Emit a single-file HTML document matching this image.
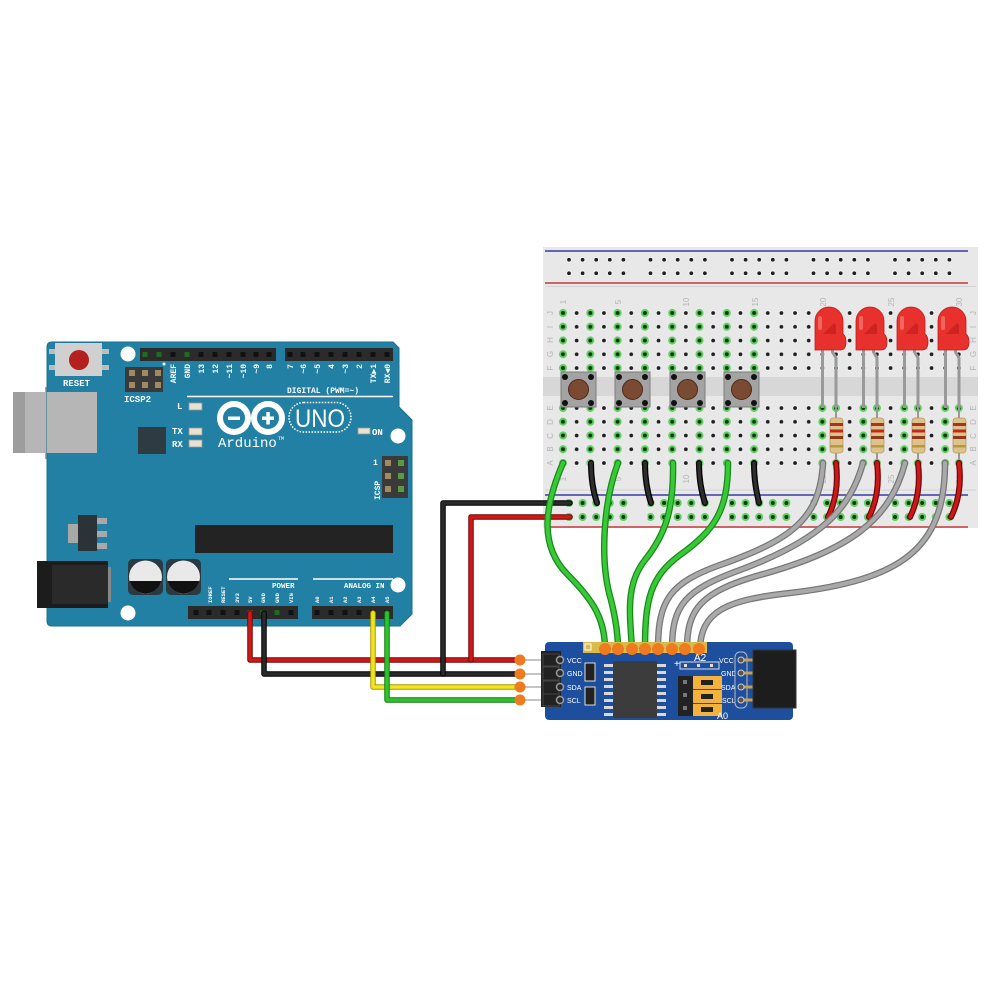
<!DOCTYPE html>
<html><head><meta charset="utf-8">
<style>html,body{margin:0;padding:0;background:#fff;}svg{display:block}</style>
</head><body>
<svg width="1000" height="1000" viewBox="0 0 1000 1000" xmlns="http://www.w3.org/2000/svg" font-family="'Liberation Mono', monospace">
<defs>
 <pattern id="pb" width="13.65" height="13.75" patternUnits="userSpaceOnUse">
   <circle cx="6.825" cy="6.875" r="2.7" fill="#f7f7f7"/>
   <circle cx="6.825" cy="6.875" r="1.9" fill="#1e1e1e"/>
 </pattern>
 <pattern id="pg" width="27.3" height="13.75" patternUnits="userSpaceOnUse">
   <circle cx="6.825" cy="6.875" r="4" fill="#5dcf5d"/>
   <circle cx="6.825" cy="6.875" r="2" fill="#163816"/>
 </pattern>
 <pattern id="pg2" width="40.95" height="13.75" patternUnits="userSpaceOnUse">
   <circle cx="6.825" cy="6.875" r="4" fill="#5dcf5d"/>
   <circle cx="6.825" cy="6.875" r="2" fill="#163816"/>
   <circle cx="20.475" cy="6.875" r="4" fill="#5dcf5d"/>
   <circle cx="20.475" cy="6.875" r="2" fill="#163816"/>
 </pattern>
 <pattern id="prb" width="81.5" height="13.5" patternUnits="userSpaceOnUse">
   <g fill="#f7f7f7"><circle cx="3" cy="6.75" r="2.7"/><circle cx="16.6" cy="6.75" r="2.7"/><circle cx="30.2" cy="6.75" r="2.7"/><circle cx="43.8" cy="6.75" r="2.7"/><circle cx="57.4" cy="6.75" r="2.7"/></g>
   <g fill="#1e1e1e"><circle cx="3" cy="6.75" r="1.9"/><circle cx="16.6" cy="6.75" r="1.9"/><circle cx="30.2" cy="6.75" r="1.9"/><circle cx="43.8" cy="6.75" r="1.9"/><circle cx="57.4" cy="6.75" r="1.9"/></g>
 </pattern>
 <pattern id="prg" width="81.5" height="14" patternUnits="userSpaceOnUse">
   <g fill="#5dcf5d"><circle cx="3" cy="7" r="4"/><circle cx="16.6" cy="7" r="4"/><circle cx="30.2" cy="7" r="4"/><circle cx="43.8" cy="7" r="4"/><circle cx="57.4" cy="7" r="4"/></g>
   <g fill="#163816"><circle cx="3" cy="7" r="2"/><circle cx="16.6" cy="7" r="2"/><circle cx="30.2" cy="7" r="2"/><circle cx="43.8" cy="7" r="2"/><circle cx="57.4" cy="7" r="2"/></g>
 </pattern>
</defs>

<!-- ================= ARDUINO ================= -->
<!-- USB -->
<rect x="45" y="387" width="10" height="72" fill="#a5a5a5"/>
<rect x="13" y="392" width="84" height="61" fill="#b6b6b6"/>
<rect x="13" y="392" width="12" height="61" fill="#9d9d9d"/>
<!-- board -->
<path d="M52,342 L393,342 L399,348 L399,407 L412,420 L412,614 L400,626 L52,626 Q47,626 47,621 L47,347 Q47,342 52,342 Z" fill="#2180a3" stroke="#1a6f8f" stroke-width="1"/>
<!-- USB over board part -->
<rect x="47" y="392" width="50" height="61" fill="#b6b6b6"/>
<!-- power jack -->
<rect x="37" y="561" width="71" height="47" fill="#1c1c1c"/>
<rect x="52" y="565" width="56" height="39" fill="#2a2a2a"/>
<rect x="108" y="567" width="3" height="35" fill="#888"/>
<!-- regulator -->
<rect x="68" y="524" width="10" height="19" fill="#a8a8a8"/>
<rect x="97" y="518" width="10" height="6" fill="#a8a8a8"/>
<rect x="97" y="531" width="10" height="6" fill="#a8a8a8"/>
<rect x="97" y="543" width="10" height="6" fill="#a8a8a8"/>
<rect x="78" y="515" width="19" height="36" fill="#2b3338"/>
<!-- capacitors -->
<rect x="128" y="559" width="35" height="36" rx="5" fill="#2a3a40"/>
<rect x="166" y="559" width="35" height="36" rx="5" fill="#2a3a40"/>
<circle cx="145.5" cy="577" r="16.5" fill="#e9e9e9"/>
<path d="M129.5,581 A16.5 16.5 0 0 0 161.5,581 Z" fill="#111"/>
<circle cx="183.5" cy="577" r="16.5" fill="#e9e9e9"/>
<path d="M167.5,581 A16.5 16.5 0 0 0 199.5,581 Z" fill="#111"/>
<!-- reset -->
<rect x="49" y="349" width="60" height="5" fill="#bdbdbd"/>
<rect x="49" y="365" width="60" height="5" fill="#bdbdbd"/>
<rect x="55" y="343" width="47" height="33" fill="#d0d0d0"/>
<circle cx="79" cy="360" r="10" fill="#b3201e"/>
<text x="63" y="386" font-size="9" fill="#fff" font-weight="bold">RESET</text>
<!-- mounting holes -->
<circle cx="128" cy="354" r="7.5" fill="#fff"/>
<circle cx="398" cy="436" r="7.5" fill="#fff"/>
<circle cx="398" cy="585" r="7.5" fill="#fff"/>
<circle cx="128" cy="613" r="7.5" fill="#fff"/>
<!-- ICSP2 -->
<rect x="125" y="367" width="38" height="25" fill="#3a3a3a"/>
<g fill="#a08a60"><rect x="129" y="370" width="6" height="6"/><rect x="142" y="370" width="6" height="6"/><rect x="155" y="370" width="6" height="6"/><rect x="129" y="382" width="6" height="6"/><rect x="142" y="382" width="6" height="6"/><rect x="155" y="382" width="6" height="6"/></g>
<circle cx="164" cy="364" r="1.5" fill="#fff"/>
<text x="124" y="402" font-size="9" fill="#fff" font-weight="bold">ICSP2</text>
<!-- top headers -->
<rect x="140" y="348" width="136" height="13" fill="#2b2b2b"/>
<rect x="285" y="348" width="108" height="13" fill="#2b2b2b"/>
<g fill="#111">
<rect x="142.5" y="352" width="5" height="5" fill="#1f6a1f"/><rect x="156.5" y="352" width="5" height="5" fill="#1f6a1f"/><rect x="170.5" y="352" width="5" height="5"/><rect x="184.5" y="352" width="5" height="5" fill="#1f6a1f"/><rect x="198.5" y="352" width="5" height="5"/><rect x="212.5" y="352" width="5" height="5"/><rect x="226.5" y="352" width="5" height="5"/><rect x="240.5" y="352" width="5" height="5"/><rect x="253.5" y="352" width="5" height="5"/><rect x="266.5" y="352" width="5" height="5"/>
<rect x="287.5" y="352" width="5" height="5"/><rect x="300.5" y="352" width="5" height="5"/><rect x="314.5" y="352" width="5" height="5"/><rect x="328.5" y="352" width="5" height="5"/><rect x="342.5" y="352" width="5" height="5"/><rect x="356.5" y="352" width="5" height="5"/><rect x="370.5" y="352" width="5" height="5"/><rect x="384.5" y="352" width="5" height="5"/>
</g>
<g font-size="8" fill="#fff" font-weight="bold" text-anchor="end">
<text transform="translate(176,364) rotate(-90)">AREF</text>
<text transform="translate(190,364) rotate(-90)">GND</text>
<text transform="translate(204,364) rotate(-90)">13</text>
<text transform="translate(218,364) rotate(-90)">12</text>
<text transform="translate(232,364) rotate(-90)">~11</text>
<text transform="translate(246,364) rotate(-90)">~10</text>
<text transform="translate(259,364) rotate(-90)">~9</text>
<text transform="translate(272,364) rotate(-90)">8</text>
<text transform="translate(293,364) rotate(-90)">7</text>
<text transform="translate(306,364) rotate(-90)">~6</text>
<text transform="translate(320,364) rotate(-90)">~5</text>
<text transform="translate(334,364) rotate(-90)">4</text>
<text transform="translate(348,364) rotate(-90)">~3</text>
<text transform="translate(362,364) rotate(-90)">2</text>
<text transform="translate(376,364) rotate(-90)">TX▶1</text>
<text transform="translate(390,364) rotate(-90)">RX◀0</text>
</g>
<text x="287" y="393" font-size="8" fill="#fff" font-weight="bold">DIGITAL (PWM=~)</text>
<line x1="187" y1="396.5" x2="393" y2="396.5" stroke="#fff" stroke-width="1.5"/>
<!-- LEDs -->
<text x="177" y="409" font-size="9" fill="#fff" font-weight="bold">L</text>
<rect x="189" y="403" width="13" height="7" fill="#e9e2d0" stroke="#999" stroke-width="0.8"/>
<text x="172" y="434" font-size="9" fill="#fff" font-weight="bold">TX</text>
<rect x="189" y="428" width="13" height="7" fill="#e9e2d0" stroke="#999" stroke-width="0.8"/>
<text x="172" y="447" font-size="9" fill="#fff" font-weight="bold">RX</text>
<rect x="189" y="440" width="13" height="7" fill="#e9e2d0" stroke="#999" stroke-width="0.8"/>
<rect x="358" y="428" width="12" height="6" fill="#e9e2d0" stroke="#999" stroke-width="0.8"/>
<text x="372" y="435" font-size="9" fill="#fff" font-weight="bold">ON</text>
<!-- small chip -->
<rect x="138" y="427" width="28" height="27" fill="#2e3b42"/>
<!-- logo -->
<circle cx="234" cy="418" r="14" fill="none" stroke="#fff" stroke-width="6"/>
<circle cx="268" cy="418" r="14" fill="none" stroke="#fff" stroke-width="6"/>
<rect x="228" y="416.5" width="12" height="3.5" fill="#fff"/>
<rect x="262" y="416.5" width="12" height="3.5" fill="#fff"/>
<rect x="266.3" y="412" width="3.5" height="12.5" fill="#fff"/>
<rect x="289" y="402.5" width="62" height="29.5" rx="14.7" fill="none" stroke="#fff" stroke-width="1.5" stroke-dasharray="1.6 1.4"/>
<text x="320" y="427" font-family="'Liberation Sans', sans-serif" font-size="25" fill="#fff" text-anchor="middle" textLength="50" lengthAdjust="spacingAndGlyphs">UNO</text>
<text x="218" y="447" font-size="14" fill="#fff">Arduino</text>
<text x="278" y="440" font-size="5" fill="#fff">TM</text>
<!-- ICSP right -->
<rect x="382" y="456" width="26" height="42" fill="#3a3a3a"/>
<g fill="#a08a60"><rect x="385" y="460" width="6" height="6"/><rect x="385" y="473" width="6" height="6"/><rect x="385" y="486" width="6" height="6"/></g>
<g fill="#5a9a40"><rect x="398" y="460" width="6" height="6"/><rect x="398" y="473" width="6" height="6"/><rect x="398" y="486" width="6" height="6"/></g>
<text x="373" y="465" font-size="8" fill="#fff" font-weight="bold">1</text>
<text transform="translate(380,500) rotate(-90)" font-size="8" fill="#fff" font-weight="bold">ICSP</text>
<!-- big chip -->
<rect x="195" y="525" width="198" height="28" fill="#232323"/>
<!-- power / analog labels -->
<line x1="229" y1="579" x2="298" y2="579" stroke="#fff" stroke-width="1.5"/>
<line x1="313" y1="579" x2="393" y2="579" stroke="#fff" stroke-width="1.5"/>
<text x="272" y="588" font-size="7.5" fill="#fff" font-weight="bold">POWER</text>
<text x="344" y="588" font-size="7.5" fill="#fff" font-weight="bold">ANALOG IN</text>
<g font-size="5.5" fill="#fff" font-weight="bold">
<text transform="translate(212,603) rotate(-90)">IOREF</text>
<text transform="translate(225,603) rotate(-90)">RESET</text>
<text transform="translate(239,603) rotate(-90)">3V3</text>
<text transform="translate(252,603) rotate(-90)">5V</text>
<text transform="translate(265,603) rotate(-90)">GND</text>
<text transform="translate(279,603) rotate(-90)">GND</text>
<text transform="translate(293,603) rotate(-90)">VIN</text>
<text transform="translate(319,603) rotate(-90)">A0</text>
<text transform="translate(333,603) rotate(-90)">A1</text>
<text transform="translate(347,603) rotate(-90)">A2</text>
<text transform="translate(361,603) rotate(-90)">A3</text>
<text transform="translate(375,603) rotate(-90)">A4</text>
<text transform="translate(389,603) rotate(-90)">A5</text>
</g>
<!-- bottom headers -->
<rect x="188" y="606" width="110" height="13" fill="#2b2b2b"/>
<rect x="312" y="606" width="81" height="13" fill="#2b2b2b"/>
<g fill="#111">
<rect x="193.5" y="610" width="5" height="5"/><rect x="206.5" y="610" width="5" height="5"/><rect x="220.5" y="610" width="5" height="5"/><rect x="234.5" y="610" width="5" height="5"/><rect x="247.5" y="610" width="5" height="5" fill="#6a4a2a"/><rect x="260.5" y="610" width="5" height="5" fill="#1f6a1f"/><rect x="274.5" y="610" width="5" height="5" fill="#1f6a1f"/><rect x="288.5" y="610" width="5" height="5"/>
<rect x="314.5" y="610" width="5" height="5"/><rect x="328.5" y="610" width="5" height="5"/><rect x="342.5" y="610" width="5" height="5"/><rect x="356.5" y="610" width="5" height="5"/><rect x="370.5" y="610" width="5" height="5"/><rect x="384.5" y="610" width="5" height="5"/>
</g>

<!-- ================= BREADBOARD ================= -->
<rect x="543" y="247" width="435" height="281" fill="#e8e8e8"/>
<rect x="543" y="377" width="435" height="19" fill="#d7d7d7"/>
<line x1="545" y1="251" x2="968" y2="251" stroke="#3b3ba6" stroke-width="1.6"/>
<line x1="545" y1="283" x2="968" y2="283" stroke="#c83838" stroke-width="1.6"/>
<line x1="545" y1="286.5" x2="976" y2="286.5" stroke="#d2d2d2" stroke-width="1"/>
<line x1="545" y1="490" x2="976" y2="490" stroke="#d2d2d2" stroke-width="1"/>
<line x1="545" y1="495" x2="968" y2="495" stroke="#3b3ba6" stroke-width="1.6"/>
<line x1="545" y1="527" x2="968" y2="527" stroke="#c83838" stroke-width="1.6"/>
<!-- rail dots -->
<rect transform="translate(566,253)" x="0" y="0" width="407.5" height="27" fill="url(#prb)"/>
<rect transform="translate(566,496)" x="0" y="0" width="407.5" height="28" fill="url(#prg)"/>
<!-- main grid -->
<rect transform="translate(556.175,306.125)" x="0" y="0" width="409.5" height="68.75" fill="url(#pb)"/>
<rect transform="translate(556.175,401.125)" x="0" y="0" width="409.5" height="68.75" fill="url(#pb)"/>
<rect transform="translate(556.175,306.125)" x="0" y="0" width="204.75" height="68.75" fill="url(#pg)"/>
<rect transform="translate(556.175,401.125)" x="0" y="0" width="204.75" height="68.75" fill="url(#pg)"/>
<rect transform="translate(815.525,401.125)" x="0" y="0" width="150.15" height="68.75" fill="url(#pg2)"/>
<!-- numbers -->
<g font-size="8" fill="#b4b4b4" font-family="'Liberation Sans', sans-serif" text-anchor="middle">
<text transform="translate(566,302) rotate(-90)">1</text>
<text transform="translate(621,302) rotate(-90)">5</text>
<text transform="translate(689,302) rotate(-90)">10</text>
<text transform="translate(758,302) rotate(-90)">15</text>
<text transform="translate(826,302) rotate(-90)">20</text>
<text transform="translate(894,302) rotate(-90)">25</text>
<text transform="translate(962,302) rotate(-90)">30</text>
<text transform="translate(566,479) rotate(-90)">1</text>
<text transform="translate(621,479) rotate(-90)">5</text>
<text transform="translate(689,479) rotate(-90)">10</text>
<text transform="translate(758,479) rotate(-90)">15</text>
<text transform="translate(826,479) rotate(-90)">20</text>
<text transform="translate(894,479) rotate(-90)">25</text>
<text transform="translate(962,479) rotate(-90)">30</text>
<text transform="translate(553,313) rotate(-90)">J</text>
<text transform="translate(553,327) rotate(-90)">I</text>
<text transform="translate(553,340) rotate(-90)">H</text>
<text transform="translate(553,354) rotate(-90)">G</text>
<text transform="translate(553,368) rotate(-90)">F</text>
<text transform="translate(553,408) rotate(-90)">E</text>
<text transform="translate(553,422) rotate(-90)">D</text>
<text transform="translate(553,436) rotate(-90)">C</text>
<text transform="translate(553,449) rotate(-90)">B</text>
<text transform="translate(553,463) rotate(-90)">A</text>
<text transform="translate(976,313) rotate(-90)">J</text>
<text transform="translate(976,327) rotate(-90)">I</text>
<text transform="translate(976,340) rotate(-90)">H</text>
<text transform="translate(976,354) rotate(-90)">G</text>
<text transform="translate(976,368) rotate(-90)">F</text>
<text transform="translate(976,408) rotate(-90)">E</text>
<text transform="translate(976,422) rotate(-90)">D</text>
<text transform="translate(976,436) rotate(-90)">C</text>
<text transform="translate(976,449) rotate(-90)">B</text>
<text transform="translate(976,463) rotate(-90)">A</text>
</g>
<!-- pushbuttons -->
<g>
 <rect x="561" y="372" width="35" height="35" fill="#a3a3a3" stroke="#7d7d7d"/>
 <circle cx="578.5" cy="389.5" r="10" fill="#7b4a32" stroke="#4a2a1a"/>
 <rect x="615" y="372" width="35" height="35" fill="#a3a3a3" stroke="#7d7d7d"/>
 <circle cx="632.5" cy="389.5" r="10" fill="#7b4a32" stroke="#4a2a1a"/>
 <rect x="670" y="372" width="35" height="35" fill="#a3a3a3" stroke="#7d7d7d"/>
 <circle cx="687.5" cy="389.5" r="10" fill="#7b4a32" stroke="#4a2a1a"/>
 <rect x="724" y="372" width="35" height="35" fill="#a3a3a3" stroke="#7d7d7d"/>
 <circle cx="741.5" cy="389.5" r="10" fill="#7b4a32" stroke="#4a2a1a"/>
 <g fill="#111">
  <circle cx="565" cy="377" r="3"/><circle cx="591" cy="377" r="3"/><circle cx="565" cy="403" r="3"/><circle cx="591" cy="403" r="3"/>
  <circle cx="619" cy="377" r="3"/><circle cx="645" cy="377" r="3"/><circle cx="619" cy="403" r="3"/><circle cx="645" cy="403" r="3"/>
  <circle cx="674" cy="377" r="3"/><circle cx="700" cy="377" r="3"/><circle cx="674" cy="403" r="3"/><circle cx="700" cy="403" r="3"/>
  <circle cx="728" cy="377" r="3"/><circle cx="754" cy="377" r="3"/><circle cx="728" cy="403" r="3"/><circle cx="754" cy="403" r="3"/>
 </g>
</g>
<!-- LED legs -->
<g fill="none" stroke="#999" stroke-width="3">
 <path d="M822.5,348 L822.5,408"/><path d="M832.5,346 L832.5,352 L836,358 L836,408"/>
 <path d="M863.5,348 L863.5,408"/><path d="M873.5,346 L873.5,352 L877,358 L877,408"/>
 <path d="M904.5,348 L904.5,408"/><path d="M914.5,346 L914.5,352 L918,358 L918,408"/>
 <path d="M945.5,348 L945.5,408"/><path d="M955.5,346 L955.5,352 L959,358 L959,408"/>
</g>
<!-- LEDs -->
<g id="led">
 <path d="M815,350 L815,321 A14 14 0 0 1 843,321 L843,334 Q846,336 846,342 Q846,350 840,350 Z" fill="#e8302c" stroke="#c01c1c" stroke-width="0.8"/>
 <path d="M823,334 L834,323 L836,325 L836,334 Z" fill="#c2201c" opacity="0.7"/>
 <rect x="818" y="316" width="4" height="14" rx="2" fill="#f58a80" opacity="0.6"/>
</g>
<use href="#led" transform="translate(41,0)"/>
<use href="#led" transform="translate(82,0)"/>
<use href="#led" transform="translate(123,0)"/>
<!-- resistors -->
<g id="res">
 <line x1="836" y1="408" x2="836" y2="463" stroke="#999" stroke-width="2"/>
 <rect x="830" y="418" width="13" height="35" rx="3" fill="#dcc28c" stroke="#b89a60" stroke-width="0.8"/>
 <rect x="830" y="423" width="13" height="3" fill="#b0301e"/>
 <rect x="830" y="429.5" width="13" height="3" fill="#c0281c"/>
 <rect x="830" y="436" width="13" height="3" fill="#8b3a1a"/>
 <rect x="830" y="445" width="13" height="2.5" fill="#b89838"/>
</g>
<use href="#res" transform="translate(41,0)"/>
<use href="#res" transform="translate(82,0)"/>
<use href="#res" transform="translate(123,0)"/>

<!-- ================= WIRES ================= -->
<g fill="none" stroke-linecap="round" stroke-linejoin="round">
 <!-- short black on breadboard -->
 <g stroke="#000" stroke-width="6">
  <path d="M591,463 C591,482 594,494 597,503"/>
  <path d="M645,463 C645,482 648,494 651,503"/>
  <path d="M699,463 C699,482 702,494 705,503"/>
  <path d="M754,463 C754,482 757,494 759,503"/>
 </g>
 <g stroke="#2e2e2e" stroke-width="3.5">
  <path d="M591,463 C591,482 594,494 597,503"/>
  <path d="M645,463 C645,482 648,494 651,503"/>
  <path d="M699,463 C699,482 702,494 705,503"/>
  <path d="M754,463 C754,482 757,494 759,503"/>
 </g>
 <!-- short red on breadboard -->
 <g stroke="#6e0808" stroke-width="6">
  <path d="M836,463 C839,488 834,505 828,517"/>
  <path d="M877,463 C880,488 875,505 869,517"/>
  <path d="M918,463 C921,488 916,505 910,517"/>
  <path d="M959,463 C962,488 957,505 951,517"/>
 </g>
 <g stroke="#cc1818" stroke-width="3.5">
  <path d="M836,463 C839,488 834,505 828,517"/>
  <path d="M877,463 C880,488 875,505 869,517"/>
  <path d="M918,463 C921,488 916,505 910,517"/>
  <path d="M959,463 C962,488 957,505 951,517"/>
 </g>
 <!-- arduino wires -->
 <path d="M250,613 L250,660 L520,660" stroke="#6e0808" stroke-width="5.5"/>
 <path d="M250,613 L250,660 L520,660" stroke="#d01818" stroke-width="3.5"/>
 <path d="M264,613 L264,674 L520,674" stroke="#000" stroke-width="5.5"/>
 <path d="M264,613 L264,674 L520,674" stroke="#2a2a2a" stroke-width="3.5"/>
 <path d="M471,660 L471,517 L570,517" stroke="#6e0808" stroke-width="5.5"/>
 <path d="M471,660 L471,517 L570,517" stroke="#d01818" stroke-width="3.5"/>
 <path d="M443,674 L443,503 L570,503" stroke="#000" stroke-width="5.5"/>
 <path d="M443,674 L443,503 L570,503" stroke="#2a2a2a" stroke-width="3.5"/>
 <path d="M373,613 L373,687 L520,687" stroke="#a89a00" stroke-width="5.5"/>
 <path d="M373,613 L373,687 L520,687" stroke="#f2e41e" stroke-width="3.5"/>
 <path d="M387,613 L387,700 L520,700" stroke="#137a13" stroke-width="5.5"/>
 <path d="M387,613 L387,700 L520,700" stroke="#2ec42e" stroke-width="3.5"/>
 <!-- gray wires -->
 <g stroke="#777" stroke-width="6.5">
  <path d="M823,463 C820,520 790,540 720,565 C670,583 658,600 658,649"/>
  <path d="M863,463 C850,510 820,540 740,570 C685,590 672,605 672,649"/>
  <path d="M905,463 C890,520 850,550 760,575 C700,592 687,610 687,649"/>
  <path d="M945,463 C945,550 900,580 790,593 C725,600 701,612 700,649"/>
 </g>
 <g stroke="#a9a9a9" stroke-width="4">
  <path d="M823,463 C820,520 790,540 720,565 C670,583 658,600 658,649"/>
  <path d="M863,463 C850,510 820,540 740,570 C685,590 672,605 672,649"/>
  <path d="M905,463 C890,520 850,550 760,575 C700,592 687,610 687,649"/>
  <path d="M945,463 C945,550 900,580 790,593 C725,600 701,612 700,649"/>
 </g>
 <!-- green wires -->
 <g stroke="#188a18" stroke-width="6.5">
  <path d="M563,463 C545,505 538,545 568,575 C594,601 605,620 605,649"/>
  <path d="M618,463 C604,500 599,560 611,600 C616,620 618,635 618,649"/>
  <path d="M673,463 C674,510 665,535 645,560 C625,585 630,615 632,649"/>
  <path d="M728,463 C728,510 715,530 680,555 C650,577 645,600 645,649"/>
 </g>
 <g stroke="#38c838" stroke-width="4">
  <path d="M563,463 C545,505 538,545 568,575 C594,601 605,620 605,649"/>
  <path d="M618,463 C604,500 599,560 611,600 C616,620 618,635 618,649"/>
  <path d="M673,463 C674,510 665,535 645,560 C625,585 630,615 632,649"/>
  <path d="M728,463 C728,510 715,530 680,555 C650,577 645,600 645,649"/>
 </g>
</g>

<!-- ================= PCF8574 MODULE ================= -->
<rect x="545" y="642" width="248" height="78" rx="4" fill="#1e4f9e"/>
<!-- thin leads from dots -->
<g stroke="#b0b0b0" stroke-width="1.5">
 <line x1="520" y1="660" x2="545" y2="660"/><line x1="520" y1="674" x2="545" y2="674"/>
 <line x1="520" y1="687" x2="545" y2="687"/><line x1="520" y1="700" x2="545" y2="700"/>
</g>
<!-- left header -->
<rect x="541" y="651" width="20" height="56" fill="#222"/>
<g fill="none" stroke="#444" stroke-width="1"><rect x="543" y="654" width="16" height="12"/><rect x="543" y="667" width="16" height="13"/><rect x="543" y="681" width="16" height="13"/><rect x="543" y="694" width="16" height="12"/></g>
<g fill="#2a2a2a" stroke="#9a9a9a" stroke-width="1.5"><circle cx="560" cy="660" r="3.5"/><circle cx="560" cy="673" r="3.5"/><circle cx="560" cy="687" r="3.5"/><circle cx="560" cy="700" r="3.5"/></g>
<g font-family="'Liberation Sans', sans-serif" font-size="7" fill="#fff">
 <text x="567" y="663">VCC</text><text x="567" y="676">GND</text><text x="567" y="690">SDA</text><text x="567" y="703">SCL</text>
</g>
<!-- orange endpoints at left -->
<g fill="#f07a1e"><circle cx="520" cy="660" r="5.5"/><circle cx="520" cy="674" r="5.5"/><circle cx="520" cy="687" r="5.5"/><circle cx="520" cy="700" r="5.5"/></g>
<!-- small SMD -->
<rect x="585" y="663" width="10" height="18" fill="#222" stroke="#ddd" stroke-width="1"/>
<rect x="585" y="687" width="10" height="18" fill="#222" stroke="#ddd" stroke-width="1"/>
<!-- chip -->
<g fill="#d8d8d8">
 <rect x="604" y="664" width="9" height="3"/><rect x="604" y="671" width="9" height="3"/><rect x="604" y="678" width="9" height="3"/><rect x="604" y="685" width="9" height="3"/><rect x="604" y="692" width="9" height="3"/><rect x="604" y="699" width="9" height="3"/><rect x="604" y="706" width="9" height="3"/><rect x="604" y="713" width="9" height="3"/>
 <rect x="657" y="664" width="9" height="3"/><rect x="657" y="671" width="9" height="3"/><rect x="657" y="678" width="9" height="3"/><rect x="657" y="685" width="9" height="3"/><rect x="657" y="692" width="9" height="3"/><rect x="657" y="699" width="9" height="3"/><rect x="657" y="706" width="9" height="3"/><rect x="657" y="713" width="9" height="3"/>
</g>
<rect x="613" y="661" width="44" height="57" rx="2" fill="#3c3c3c"/>
<!-- top yellow header -->
<rect x="583" y="642" width="124" height="11" fill="#d9bb4c"/>
<rect x="585" y="644" width="6" height="6" fill="none" stroke="#fff" stroke-width="1"/>
<g fill="#f07a1e"><circle cx="605" cy="649" r="6"/><circle cx="618" cy="649" r="6"/><circle cx="632" cy="649" r="6"/><circle cx="645" cy="649" r="6"/><circle cx="658" cy="649" r="6"/><circle cx="672" cy="649" r="6"/><circle cx="685" cy="649" r="6"/><circle cx="699" cy="649" r="6"/></g>
<!-- jumper area -->
<text x="674" y="667" font-family="'Liberation Sans', sans-serif" font-size="10" fill="#fff">+</text>
<text x="694" y="661" font-family="'Liberation Sans', sans-serif" font-size="10" fill="#fff">A2</text>
<rect x="680" y="662" width="39" height="7" fill="none" stroke="#ddd" stroke-width="1"/>
<g fill="#ddd"><rect x="684" y="664" width="3" height="3"/><rect x="697" y="664" width="3" height="3"/><rect x="710" y="664" width="3" height="3"/></g>
<rect x="678" y="676" width="15" height="40" fill="#222"/>
<g fill="#777"><rect x="683" y="680" width="4" height="4"/><rect x="683" y="693" width="4" height="4"/><rect x="683" y="706" width="4" height="4"/></g>
<g fill="#f2b23c"><rect x="693" y="676" width="29" height="13"/><rect x="693" y="690" width="29" height="13"/><rect x="693" y="704" width="29" height="12"/></g>
<g fill="#222"><rect x="701" y="680" width="12" height="5"/><rect x="701" y="694" width="12" height="5"/><rect x="701" y="707" width="12" height="5"/></g>
<text x="717" y="719" font-family="'Liberation Sans', sans-serif" font-size="9" fill="#fff">A0</text>
<!-- right side -->
<g font-family="'Liberation Sans', sans-serif" font-size="7" fill="#fff">
 <text x="719" y="663">VCC</text><text x="721" y="676">GND</text><text x="721" y="690">SDA</text><text x="722" y="703">SCL</text>
</g>
<rect x="735" y="652" width="12" height="56" rx="5" fill="#1e4f9e" stroke="#bbb" stroke-width="1"/>
<g fill="#c8a050"><rect x="741" y="658.5" width="14" height="3"/><rect x="741" y="671.5" width="14" height="3"/><rect x="741" y="685.5" width="14" height="3"/><rect x="741" y="698.5" width="14" height="3"/></g>
<g fill="#555" stroke="#ccc" stroke-width="1"><circle cx="741" cy="660" r="3"/><circle cx="741" cy="673" r="3"/><circle cx="741" cy="687" r="3"/><circle cx="741" cy="700" r="3"/></g>
<rect x="753" y="650" width="43" height="58" fill="#1d1d1d"/>
<rect x="753" y="650" width="43" height="58" fill="none" stroke="#333" stroke-width="1"/>
</svg>
</body></html>
